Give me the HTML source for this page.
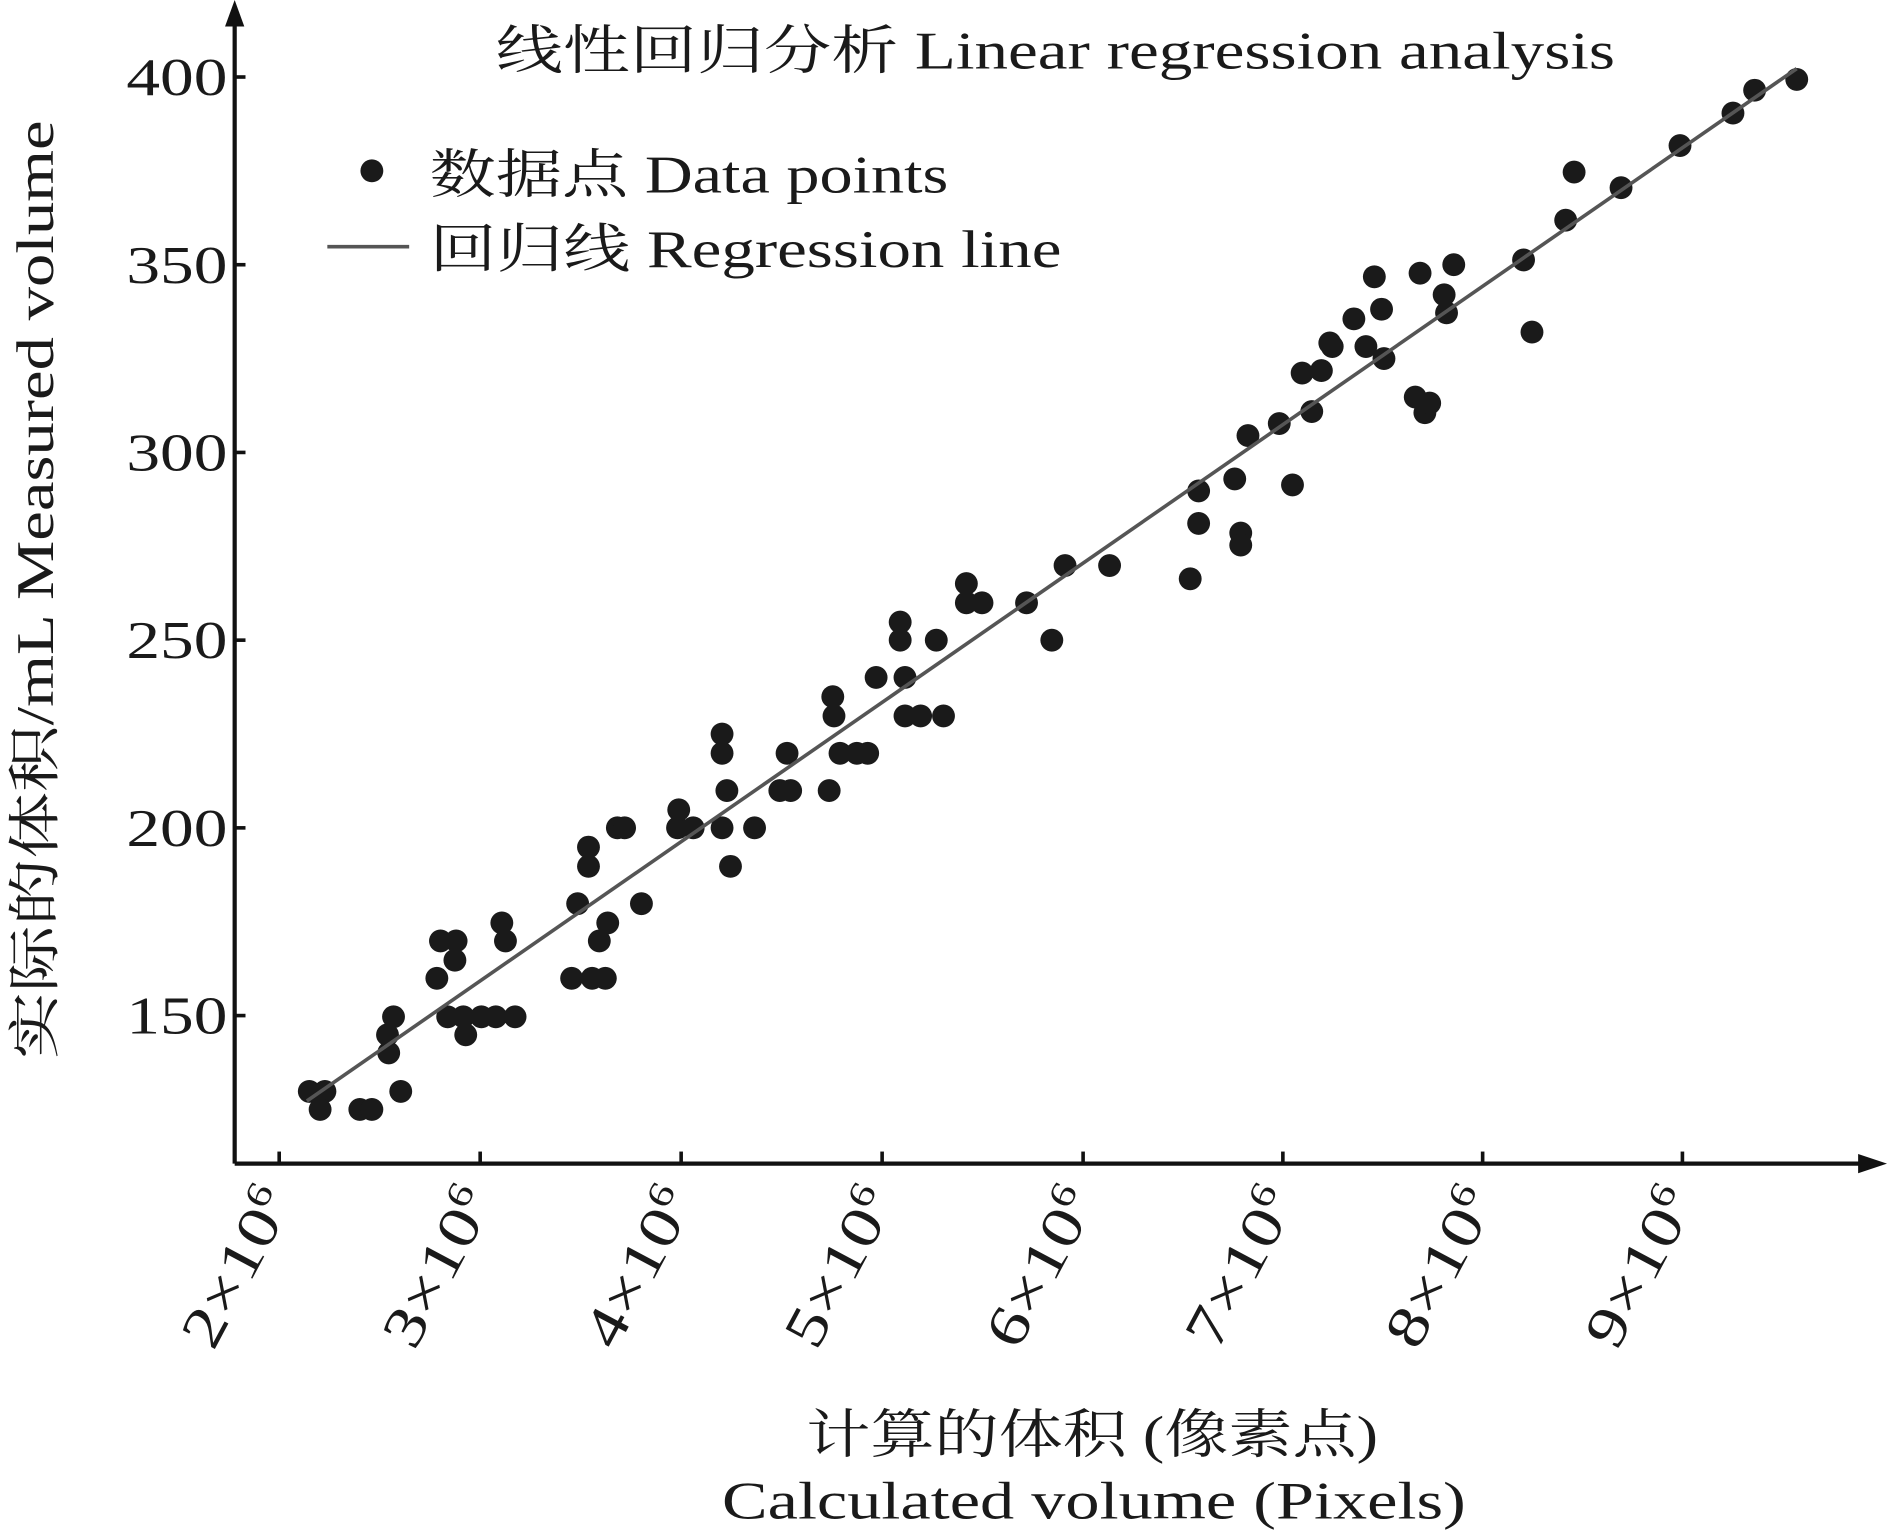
<!DOCTYPE html>
<html><head><meta charset="utf-8"><style>html,body{margin:0;padding:0;background:#fff}svg{display:block}text{font-family:"Liberation Serif","Noto Serif CJK SC",serif;fill:#1a1a1a}</style></head>
<body>
<svg width="1887" height="1533" viewBox="0 0 1568 1274" preserveAspectRatio="none" xmlns="http://www.w3.org/2000/svg">
<rect width="1568" height="1274" fill="#fff"/>
<g stroke="#111" stroke-width="3.5" fill="none">
<line x1="195" y1="12" x2="195" y2="967"/>
<line x1="195" y1="967" x2="1552" y2="967"/>
<g stroke-width="3">
<line x1="195" y1="64" x2="204" y2="64"/><line x1="195" y1="220" x2="204" y2="220"/><line x1="195" y1="376" x2="204" y2="376"/><line x1="195" y1="532" x2="204" y2="532"/><line x1="195" y1="688" x2="204" y2="688"/><line x1="195" y1="844" x2="204" y2="844"/>
<line x1="232" y1="967" x2="232" y2="957"/><line x1="399" y1="967" x2="399" y2="957"/><line x1="566" y1="967" x2="566" y2="957"/><line x1="733" y1="967" x2="733" y2="957"/><line x1="900" y1="967" x2="900" y2="957"/><line x1="1066" y1="967" x2="1066" y2="957"/><line x1="1232" y1="967" x2="1232" y2="957"/><line x1="1398" y1="967" x2="1398" y2="957"/>
</g></g>
<polygon points="195,0 187,22 203,22" fill="#111"/>
<polygon points="1568,967 1544,959 1544,975" fill="#111"/>
<g font-size="44" text-anchor="end">
<text x="189" y="79" textLength="84" lengthAdjust="spacingAndGlyphs">400</text><text x="189" y="235" textLength="84" lengthAdjust="spacingAndGlyphs">350</text><text x="189" y="391" textLength="84" lengthAdjust="spacingAndGlyphs">300</text><text x="189" y="547" textLength="84" lengthAdjust="spacingAndGlyphs">250</text><text x="189" y="703" textLength="84" lengthAdjust="spacingAndGlyphs">200</text><text x="189" y="859" textLength="84" lengthAdjust="spacingAndGlyphs">150</text>
</g>
<g font-size="48" text-anchor="end">
<text transform="translate(244,998) rotate(-62)" textLength="142" lengthAdjust="spacingAndGlyphs">2×10<tspan dy="-18" font-size="30">6</tspan></text>
<text transform="translate(411,998) rotate(-62)" textLength="142" lengthAdjust="spacingAndGlyphs">3×10<tspan dy="-18" font-size="30">6</tspan></text>
<text transform="translate(578,998) rotate(-62)" textLength="142" lengthAdjust="spacingAndGlyphs">4×10<tspan dy="-18" font-size="30">6</tspan></text>
<text transform="translate(745,998) rotate(-62)" textLength="142" lengthAdjust="spacingAndGlyphs">5×10<tspan dy="-18" font-size="30">6</tspan></text>
<text transform="translate(912,998) rotate(-62)" textLength="142" lengthAdjust="spacingAndGlyphs">6×10<tspan dy="-18" font-size="30">6</tspan></text>
<text transform="translate(1078,998) rotate(-62)" textLength="142" lengthAdjust="spacingAndGlyphs">7×10<tspan dy="-18" font-size="30">6</tspan></text>
<text transform="translate(1244,998) rotate(-62)" textLength="142" lengthAdjust="spacingAndGlyphs">8×10<tspan dy="-18" font-size="30">6</tspan></text>
<text transform="translate(1410,998) rotate(-62)" textLength="142" lengthAdjust="spacingAndGlyphs">9×10<tspan dy="-18" font-size="30">6</tspan></text>
</g>
<text x="412" y="57" font-size="44" textLength="930" lengthAdjust="spacingAndGlyphs">线性回归分析 Linear regression analysis</text>
<text transform="translate(44,880) rotate(-90)" font-size="44" textLength="780" lengthAdjust="spacingAndGlyphs">实际的体积/mL Measured volume</text>
<text x="670" y="1207" font-size="44" textLength="475" lengthAdjust="spacingAndGlyphs">计算的体积 (像素点)</text>
<text x="600" y="1262" font-size="44" textLength="618" lengthAdjust="spacingAndGlyphs">Calculated volume (Pixels)</text>
<circle cx="309" cy="142" r="9.5" fill="#1a1a1a"/>
<text x="357" y="160" font-size="44" textLength="431" lengthAdjust="spacingAndGlyphs">数据点 Data points</text>
<line x1="272" y1="205" x2="340" y2="205" stroke="#555" stroke-width="3"/>
<text x="357" y="222" font-size="44" textLength="525" lengthAdjust="spacingAndGlyphs">回归线 Regression line</text>
<g fill="#1a1a1a">
<circle cx="257" cy="907" r="9.5"/><circle cx="270" cy="907" r="9.5"/><circle cx="266" cy="922" r="9.5"/><circle cx="299" cy="922" r="9.5"/><circle cx="309" cy="922" r="9.5"/><circle cx="333" cy="907" r="9.5"/><circle cx="323" cy="875" r="9.5"/><circle cx="322" cy="860" r="9.5"/><circle cx="327" cy="845" r="9.5"/><circle cx="363" cy="813" r="9.5"/><circle cx="366" cy="782" r="9.5"/><circle cx="379" cy="782" r="9.5"/><circle cx="378" cy="798" r="9.5"/><circle cx="372" cy="845" r="9.5"/><circle cx="387" cy="860" r="9.5"/><circle cx="385" cy="845" r="9.5"/><circle cx="400" cy="845" r="9.5"/><circle cx="412" cy="845" r="9.5"/><circle cx="428" cy="845" r="9.5"/><circle cx="417" cy="767" r="9.5"/><circle cx="420" cy="782" r="9.5"/><circle cx="475" cy="813" r="9.5"/><circle cx="480" cy="751" r="9.5"/><circle cx="489" cy="704" r="9.5"/><circle cx="489" cy="720" r="9.5"/><circle cx="492" cy="813" r="9.5"/><circle cx="503" cy="813" r="9.5"/><circle cx="498" cy="782" r="9.5"/><circle cx="505" cy="767" r="9.5"/><circle cx="513" cy="688" r="9.5"/><circle cx="519" cy="688" r="9.5"/><circle cx="533" cy="751" r="9.5"/><circle cx="563" cy="688" r="9.5"/><circle cx="564" cy="673" r="9.5"/><circle cx="576" cy="688" r="9.5"/><circle cx="600" cy="688" r="9.5"/><circle cx="600" cy="610" r="9.5"/><circle cx="600" cy="626" r="9.5"/><circle cx="604" cy="657" r="9.5"/><circle cx="607" cy="720" r="9.5"/><circle cx="627" cy="688" r="9.5"/><circle cx="648" cy="657" r="9.5"/><circle cx="654" cy="626" r="9.5"/><circle cx="657" cy="657" r="9.5"/><circle cx="689" cy="657" r="9.5"/><circle cx="692" cy="579" r="9.5"/><circle cx="693" cy="595" r="9.5"/><circle cx="698" cy="626" r="9.5"/><circle cx="712" cy="626" r="9.5"/><circle cx="721" cy="626" r="9.5"/><circle cx="728" cy="563" r="9.5"/><circle cx="748" cy="517" r="9.5"/><circle cx="748" cy="532" r="9.5"/><circle cx="752" cy="563" r="9.5"/><circle cx="752" cy="595" r="9.5"/><circle cx="765" cy="595" r="9.5"/><circle cx="778" cy="532" r="9.5"/><circle cx="784" cy="595" r="9.5"/><circle cx="803" cy="485" r="9.5"/><circle cx="803" cy="501" r="9.5"/><circle cx="816" cy="501" r="9.5"/><circle cx="853" cy="501" r="9.5"/><circle cx="874" cy="532" r="9.5"/><circle cx="885" cy="470" r="9.5"/><circle cx="922" cy="470" r="9.5"/><circle cx="989" cy="481" r="9.5"/><circle cx="996" cy="408" r="9.5"/><circle cx="996" cy="435" r="9.5"/><circle cx="1026" cy="398" r="9.5"/><circle cx="1031" cy="443" r="9.5"/><circle cx="1031" cy="453" r="9.5"/><circle cx="1037" cy="362" r="9.5"/><circle cx="1063" cy="352" r="9.5"/><circle cx="1074" cy="403" r="9.5"/><circle cx="1082" cy="310" r="9.5"/><circle cx="1090" cy="342" r="9.5"/><circle cx="1098" cy="308" r="9.5"/><circle cx="1105" cy="285" r="9.5"/><circle cx="1107" cy="288" r="9.5"/><circle cx="1125" cy="265" r="9.5"/><circle cx="1135" cy="288" r="9.5"/><circle cx="1142" cy="230" r="9.5"/><circle cx="1148" cy="257" r="9.5"/><circle cx="1150" cy="298" r="9.5"/><circle cx="1176" cy="330" r="9.5"/><circle cx="1180" cy="227" r="9.5"/><circle cx="1184" cy="343" r="9.5"/><circle cx="1188" cy="335" r="9.5"/><circle cx="1200" cy="245" r="9.5"/><circle cx="1202" cy="260" r="9.5"/><circle cx="1208" cy="220" r="9.5"/><circle cx="1266" cy="216" r="9.5"/><circle cx="1273" cy="276" r="9.5"/><circle cx="1301" cy="183" r="9.5"/><circle cx="1308" cy="143" r="9.5"/><circle cx="1347" cy="156" r="9.5"/><circle cx="1396" cy="121" r="9.5"/><circle cx="1440" cy="94" r="9.5"/><circle cx="1458" cy="75" r="9.5"/><circle cx="1493" cy="66" r="9.5"/>
</g>
<line x1="255" y1="915" x2="1493" y2="57" stroke="#555" stroke-width="3"/>
</svg>
</body></html>
